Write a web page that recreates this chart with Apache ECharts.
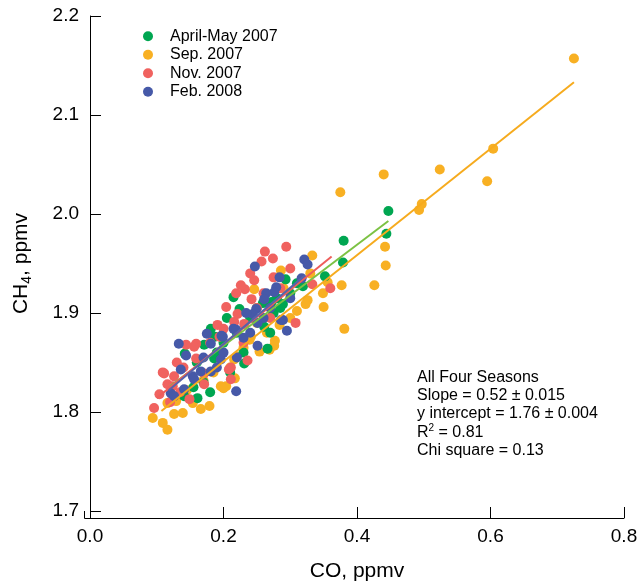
<!DOCTYPE html>
<html>
<head>
<meta charset="utf-8">
<script src="https://cdn.jsdelivr.net/npm/echarts@6/dist/echarts.min.js"></script>
<style>
  html, body { margin: 0; padding: 0; background: #fff; }
  #main { width: 638px; height: 581px; }
</style>
</head>
<body>
<div id="main"></div>
<script>
// series names (legend order)
const seasons = ['April-May 2007', 'Sep. 2007', 'Nov. 2007', 'Feb. 2008']

// axis ticks
const xTicks = [0.0, 0.2, 0.4, 0.6, 0.8]
const yTicks = [1.7, 1.8, 1.9, 2.0, 2.1, 2.2]

// [CO, CH4] points
const aprMay = [
  [0.447, 2.003], [0.444, 1.980], [0.380, 1.973], [0.379, 1.951], [0.352, 1.937],
  [0.293, 1.934], [0.319, 1.927], [0.289, 1.909], [0.275, 1.900], [0.215, 1.916],
  [0.259, 1.910], [0.272, 1.911], [0.224, 1.904], [0.274, 1.900], [0.205, 1.895],
  [0.261, 1.886], [0.181, 1.884], [0.187, 1.876], [0.266, 1.864], [0.231, 1.849],
  [0.142, 1.859], [0.171, 1.868], [0.186, 1.854], [0.141, 1.816], [0.161, 1.814],
  [0.200, 1.870], [0.220, 1.880], [0.240, 1.895], [0.250, 1.905], [0.280, 1.915],
  [0.300, 1.920], [0.160, 1.850], [0.170, 1.830], [0.190, 1.860], [0.270, 1.880],
  [0.230, 1.860], [0.210, 1.840], [0.285, 1.905], [0.310, 1.930], [0.180, 1.820],
  [0.155, 1.825]
]
const sep2007 = [
  [0.725, 2.157], [0.604, 2.066], [0.595, 2.033], [0.524, 2.045], [0.440, 2.040],
  [0.375, 2.022], [0.497, 2.010], [0.493, 2.004], [0.442, 1.967], [0.443, 1.948],
  [0.377, 1.928], [0.426, 1.928], [0.381, 1.884], [0.333, 1.958], [0.286, 1.943],
  [0.356, 1.931], [0.349, 1.920], [0.326, 1.913], [0.323, 1.909], [0.350, 1.906],
  [0.284, 1.888], [0.246, 1.924], [0.276, 1.867], [0.269, 1.863], [0.277, 1.872],
  [0.254, 1.861], [0.220, 1.856], [0.239, 1.873], [0.241, 1.876], [0.217, 1.834],
  [0.204, 1.826], [0.196, 1.826], [0.200, 1.824], [0.216, 1.853], [0.154, 1.809],
  [0.116, 1.809], [0.129, 1.811], [0.179, 1.806], [0.166, 1.803], [0.139, 1.799],
  [0.126, 1.798], [0.094, 1.794], [0.109, 1.789], [0.116, 1.782], [0.300, 1.895],
  [0.310, 1.902], [0.265, 1.880], [0.230, 1.865], [0.185, 1.840], [0.170, 1.832],
  [0.145, 1.822], [0.210, 1.845], [0.250, 1.890], [0.290, 1.925], [0.330, 1.940]
]
const nov2007 = [
  [0.294, 1.967], [0.274, 1.955], [0.257, 1.952], [0.275, 1.936], [0.333, 1.929],
  [0.360, 1.925], [0.246, 1.933], [0.232, 1.924], [0.219, 1.920], [0.242, 1.914],
  [0.204, 1.906], [0.221, 1.899], [0.216, 1.891], [0.231, 1.889], [0.308, 1.890],
  [0.191, 1.888], [0.200, 1.884], [0.194, 1.876], [0.159, 1.869], [0.144, 1.868],
  [0.156, 1.866], [0.159, 1.854], [0.111, 1.839], [0.126, 1.836], [0.171, 1.839],
  [0.211, 1.833], [0.116, 1.828], [0.124, 1.826], [0.171, 1.828], [0.104, 1.818],
  [0.149, 1.813], [0.096, 1.804], [0.236, 1.852], [0.211, 1.845], [0.208, 1.843],
  [0.260, 1.920], [0.250, 1.905], [0.180, 1.870], [0.140, 1.845], [0.130, 1.850],
  [0.120, 1.810], [0.135, 1.820], [0.230, 1.870], [0.270, 1.895], [0.285, 1.925],
  [0.109, 1.840], [0.262, 1.962], [0.240, 1.940], [0.226, 1.928], [0.300, 1.945]
]
const feb2008 = [
  [0.321, 1.954], [0.326, 1.949], [0.284, 1.936], [0.317, 1.935], [0.279, 1.926],
  [0.276, 1.921], [0.289, 1.893], [0.295, 1.882], [0.247, 1.947], [0.264, 1.920],
  [0.261, 1.914], [0.249, 1.904], [0.244, 1.899], [0.234, 1.900], [0.251, 1.890],
  [0.286, 1.893], [0.215, 1.884], [0.175, 1.879], [0.199, 1.876], [0.181, 1.869],
  [0.133, 1.869], [0.144, 1.857], [0.196, 1.853], [0.136, 1.843], [0.154, 1.836],
  [0.156, 1.833], [0.181, 1.841], [0.166, 1.841], [0.219, 1.821], [0.141, 1.823],
  [0.121, 1.819], [0.126, 1.816], [0.251, 1.867], [0.220, 1.855], [0.197, 1.877],
  [0.219, 1.883], [0.230, 1.875], [0.260, 1.895], [0.270, 1.905], [0.200, 1.860],
  [0.170, 1.855], [0.190, 1.845], [0.300, 1.915], [0.240, 1.880]
]

// fitted lines, end points
const fitAprMay = [[0.120, 1.826], [0.447, 1.993]]
const fitSep = [[0.107, 1.801], [0.725, 2.133]]
const fitNov = [[0.100, 1.814], [0.362, 1.957]]
const fitFeb = [[0.118, 1.822], [0.322, 1.938]]

const dotColors = ['#00a651', '#f8b023', '#f0625f', '#4659a8']
const lineColors = ['#7cc243', '#f6ab1e', '#ee5e5b', '#5662ab']

const statsText = [
  'All Four Seasons',
  'Slope = 0.52 \u00b1 0.015',
  'y intercept = 1.76 \u00b1 0.004',
  'R{sup|2} = 0.81',
  'Chi square = 0.13'
]

const font = 'Liberation Sans, Arial, Helvetica, sans-serif'
const myChart = echarts.init(document.getElementById('main'), null, { renderer: 'canvas' })

function dots(i, data, z) {
  return {
    name: seasons[i],
    type: 'scatter',
    data: data,
    symbol: 'circle',
    symbolSize: 10,
    itemStyle: { color: dotColors[i], opacity: 1 },
    z: z,
    emphasis: { disabled: true }
  }
}
function fit(i, data) {
  return {
    name: 'fit ' + seasons[i],
    type: 'line',
    data: data,
    showSymbol: false,
    symbol: 'none',
    lineStyle: { color: lineColors[i], width: 2 },
    z: 10,
    silent: true
  }
}

const option = {
  animation: false,
  textStyle: { fontFamily: font },
  // v6 shrinks the grid to keep names inside; keep the grid where it is
  grid: { left: 90, right: 14, top: 16, bottom: 70, containLabel: false, outerBoundsMode: 'none' },
  legend: {
    data: seasons.map(n => ({ name: n, icon: 'circle' })),
    orient: 'vertical',
    left: 138,
    top: 22,
    itemWidth: 34,
    itemHeight: 10,
    itemGap: 0,
    selectedMode: false,
    textStyle: { fontFamily: font, fontSize: 16, color: '#000', lineHeight: 18.5 }
  },
  xAxis: {
    type: 'value',
    min: xTicks[0],
    max: xTicks[xTicks.length - 1],
    interval: 0.2,
    offset: 7,
    name: 'CO, ppmv',
    nameLocation: 'middle',
    nameGap: 43,
    nameTextStyle: { fontFamily: font, fontSize: 21, color: '#000' },
    axisLine: { lineStyle: { color: '#000', width: 1 } },
    axisTick: { inside: true, length: 11, lineStyle: { color: '#000' } },
    axisLabel: {
      fontFamily: font, fontSize: 19, color: '#000', margin: 9,
      formatter: v => v.toFixed(1)
    },
    splitLine: { show: false }
  },
  yAxis: {
    type: 'value',
    min: yTicks[0],
    max: yTicks[yTicks.length - 1],
    interval: 0.1,
    offset: 6,
    name: '{a|CH}{s|4}{a|, ppmv}',
    nameLocation: 'middle',
    nameGap: 50,
    nameRotate: 90,
    nameTextStyle: {
      color: '#000',
      rich: {
        a: { fontFamily: font, fontSize: 21, color: '#000', lineHeight: 26 },
        s: { fontFamily: font, fontSize: 14, color: '#000', lineHeight: 14, verticalAlign: 'bottom' }
      }
    },
    axisLine: { lineStyle: { color: '#000', width: 1 } },
    axisTick: { inside: true, length: 11, lineStyle: { color: '#000' } },
    axisLabel: {
      fontFamily: font, fontSize: 19, color: '#000', margin: 5,
      formatter: v => v.toFixed(1)
    },
    splitLine: { show: false }
  },
  graphic: [
    {
      type: 'text',
      left: 417,
      top: 368,
      silent: true,
      style: {
        text: statsText.join('\n'),
        font: '16px ' + font,
        fill: '#000',
        lineHeight: 18.4,
        rich: {
          sup: { fontSize: 10, fontFamily: font, fill: '#000', verticalAlign: 'top', lineHeight: 18.4, padding: [0, 0, 6, 0] }
        }
      }
    },
    // close the corner between the two offset axis lines
    {
      type: 'polyline',
      silent: true,
      shape: { points: [[84.5, 511], [84.5, 518.5], [90, 518.5]] },
      style: { stroke: '#000', lineWidth: 1, fill: null }
    }
  ],
  series: [
    dots(1, sep2007, 2),
    dots(0, aprMay, 3),
    dots(2, nov2007, 4),
    dots(3, feb2008, 5),
    fit(0, fitAprMay),
    fit(1, fitSep),
    fit(2, fitNov),
    fit(3, fitFeb)
  ]
}

myChart.setOption(option)
</script>
</body>
</html>
